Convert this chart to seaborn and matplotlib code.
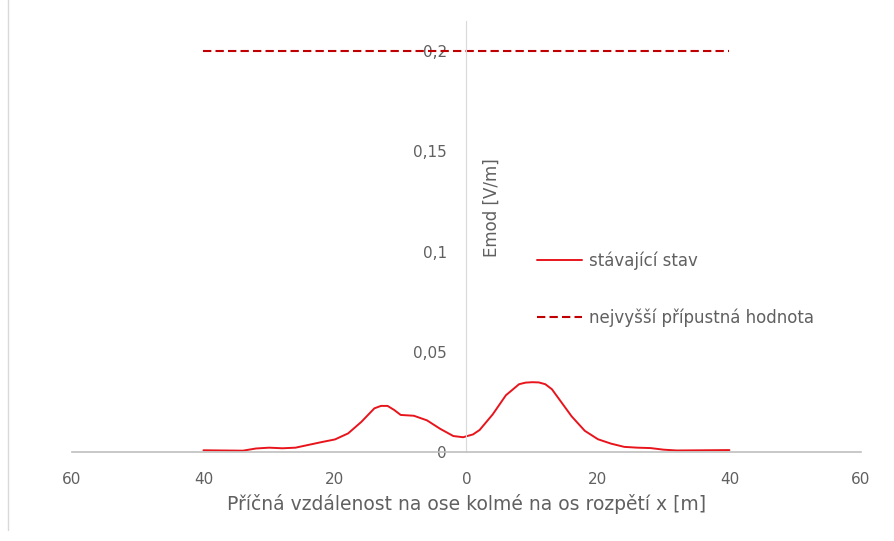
import matplotlib
matplotlib.use("Agg")
import matplotlib.pyplot as plt
from matplotlib.ticker import FuncFormatter
from matplotlib.lines import Line2D
import seaborn as sns
import pandas as pd

# data
vzdalenost = [-40, -34, -32, -30, -28, -26, -24, -22, -20, -18, -16, -14, -13, -12, -11, -10,
              -8, -6, -4, -2, -0.5, 1, 2, 4, 6, 8, 9, 10, 11, 12, 13, 14, 16, 18, 20, 22,
              24, 26, 28, 30, 32, 40]
emod = [0.0011, 0.0009, 0.0020, 0.0024, 0.0021, 0.0024, 0.0038, 0.0052, 0.0065, 0.0095,
        0.0152, 0.0220, 0.0232, 0.0232, 0.0212, 0.0187, 0.0183, 0.0160, 0.0118, 0.0082,
        0.0076, 0.0090, 0.0112, 0.0190, 0.0285, 0.0340, 0.0348, 0.0350, 0.0349, 0.0340,
        0.0315, 0.0270, 0.0180, 0.0108, 0.0066, 0.0044, 0.0028, 0.0024, 0.0022, 0.0014,
        0.0010, 0.0012]
limit_x = [-40, 40]
limit_y = [0.2, 0.2]
x_ticks = [-60, -40, -20, 0, 20, 40, 60]
y_ticks = [0, 0.05, 0.1, 0.15, 0.2]

sns.set_style("white")
plt.rcParams['font.family'] = ['DejaVu Sans']

df = pd.DataFrame({'x': vzdalenost, 'y': emod})
df_lim = pd.DataFrame({'x': limit_x, 'y': limit_y})

red = '#e8141c'
dark_red = '#c00000'
dash = (0, (4, 2))
grey = '#606060'

fig = plt.figure(figsize=(8.94, 5.41), dpi=100)
ax = fig.add_axes([0.0805, 0.1636, 0.8825, 0.798])

sns.lineplot(data=df, x='x', y='y', ax=ax, color=red, linewidth=1.4)
sns.lineplot(data=df_lim, x='x', y='y', ax=ax, color=dark_red, linewidth=1.5,
             linestyle=dash)

ax.set_xlim(-60, 60)
ax.set_ylim(0, 0.215)
ax.set_xticks(x_ticks)
ax.set_yticks(y_ticks)
ax.xaxis.set_major_formatter(FuncFormatter(lambda v, p: f"{abs(v):.0f}"))
ax.yaxis.set_major_formatter(FuncFormatter(lambda v, p: f"{v:g}".replace('.', ',')))

ax.spines['left'].set_position(('data', 0))
ax.spines['left'].set_color('#d9d9d9')
ax.spines['bottom'].set_color('#bfbfbf')
ax.spines['bottom'].set_linewidth(1.2)
ax.spines['top'].set_visible(False)
ax.spines['right'].set_visible(False)
ax.tick_params(axis='both', length=0, colors=grey, labelsize=11)
ax.tick_params(axis='x', pad=14)
ax.tick_params(axis='y', pad=14)

ax.set_xlabel("Příčná vzdálenost na ose kolmé na os rozpětí x [m]", fontsize=13.5,
              color=grey, labelpad=5)
ax.set_ylabel("")
ax.text(3.8, 0.122, "Emod [V/m]", rotation=90, ha='center', va='center',
        fontsize=12, color=grey)

handles = [Line2D([], [], color=red, linewidth=1.4),
           Line2D([], [], color=dark_red, linewidth=1.5, linestyle=dash)]
ax.legend(handles, ['stávající stav', 'nejvyšší přípustná hodnota'],
          loc='upper left', bbox_to_anchor=(0.57, 0.50), frameon=False,
          fontsize=12, labelspacing=2.3, handlelength=2.7, handletextpad=0.45,
          labelcolor=grey)

fig.add_artist(Line2D([0.009, 0.009], [0.02, 1.0], color='#d9d9d9', linewidth=1,
                      transform=fig.transFigure))

fig.savefig("out.png", dpi=100)
